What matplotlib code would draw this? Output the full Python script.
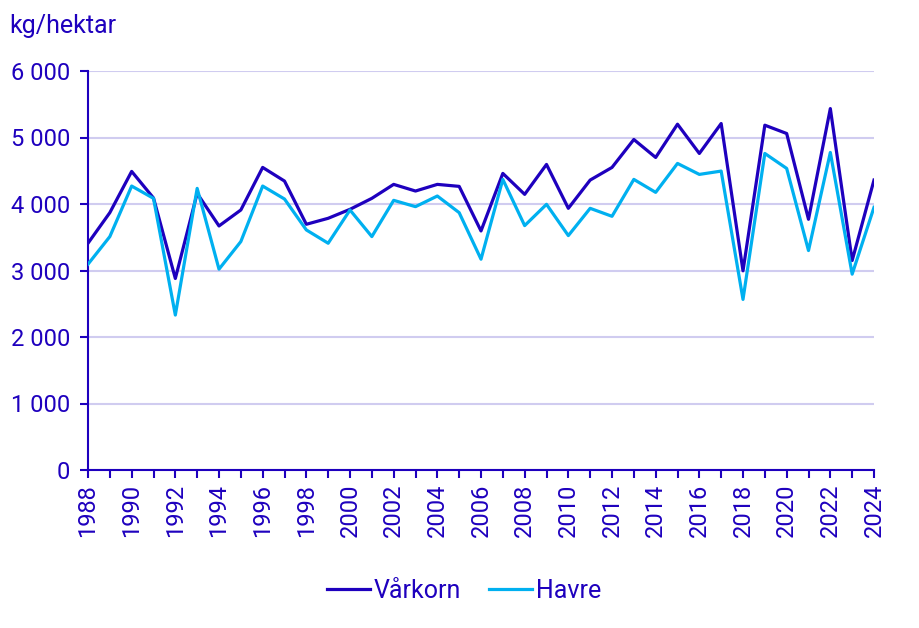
import matplotlib
matplotlib.use("Agg")
import matplotlib.pyplot as plt
from matplotlib.ticker import FuncFormatter, MultipleLocator

years = list(range(1988, 2025))
varkorn = [3410, 3870, 4490, 4090, 2880, 4160, 3670, 3910, 4550, 4345,
           3695, 3785, 3920, 4085, 4295, 4195, 4295, 4265, 3595, 4460,
           4145, 4595, 3935, 4360, 4550, 4970, 4700, 5200, 4760, 5210,
           2995, 5185, 5060, 3770, 5435, 3150, 4360]
havre = [3095, 3510, 4270, 4085, 2330, 4235, 3020, 3435, 4270, 4075,
         3610, 3410, 3910, 3510, 4055, 3960, 4120, 3870, 3170, 4370,
         3675, 3995, 3525, 3935, 3815, 4370, 4175, 4610, 4445, 4495,
         2565, 4760, 4535, 3300, 4775, 2945, 3950]
series_names = ["Vårkorn", "Havre"]
y_label = "kg/hektar"

dark = "#1E00BE"
light = "#00B0F0"
grid_c = "#D0CCF0"

plt.rcParams['font.family'] = ['Roboto', 'DejaVu Sans']

fig = plt.figure(figsize=(9.2, 6.28), dpi=100)
ax = fig.add_axes([88/920, 1-470/628, (874-88)/920, (470-71)/628])

ax.plot(years, varkorn, color=dark, lw=2.3, label=series_names[0], zorder=3)
ax.plot(years, havre, color=light, lw=2.3, label=series_names[1], zorder=3)

ax.set_xlim(1988, 2024)
ax.set_ylim(0, 6000)
ax.yaxis.set_major_locator(MultipleLocator(1000))
ax.yaxis.set_major_formatter(FuncFormatter(lambda v, p: f"{int(v):,}".replace(",", " ")))
ax.set_xticks(years)
ax.set_xticklabels([str(y) if (y - 1988) % 2 == 0 else "" for y in years], rotation=90)

ax.grid(axis='y', color=grid_c, lw=1.5, zorder=0)
ax.set_axisbelow(True)
for s in ["top", "right"]:
    ax.spines[s].set_visible(False)
for s in ["left", "bottom"]:
    ax.spines[s].set_color(dark)
    ax.spines[s].set_linewidth(1.5)
ax.tick_params(axis='both', colors=dark, labelcolor=dark, labelsize=17,
               length=6, width=1.5, direction='out')
ax.tick_params(axis='y', pad=7)
ax.tick_params(axis='x', pad=4)

fig.text(9/920, 1-26/628, y_label, color=dark, fontsize=18, va='center', ha='left')

leg = fig.legend(loc='center', bbox_to_anchor=(464/920, 1-591/628), ncol=2, frameon=False,
                 fontsize=18, handlelength=1.72, columnspacing=1.1, handletextpad=0.16)
for t in leg.get_texts():
    t.set_color(dark)

fig.savefig("out.png", dpi=100)
